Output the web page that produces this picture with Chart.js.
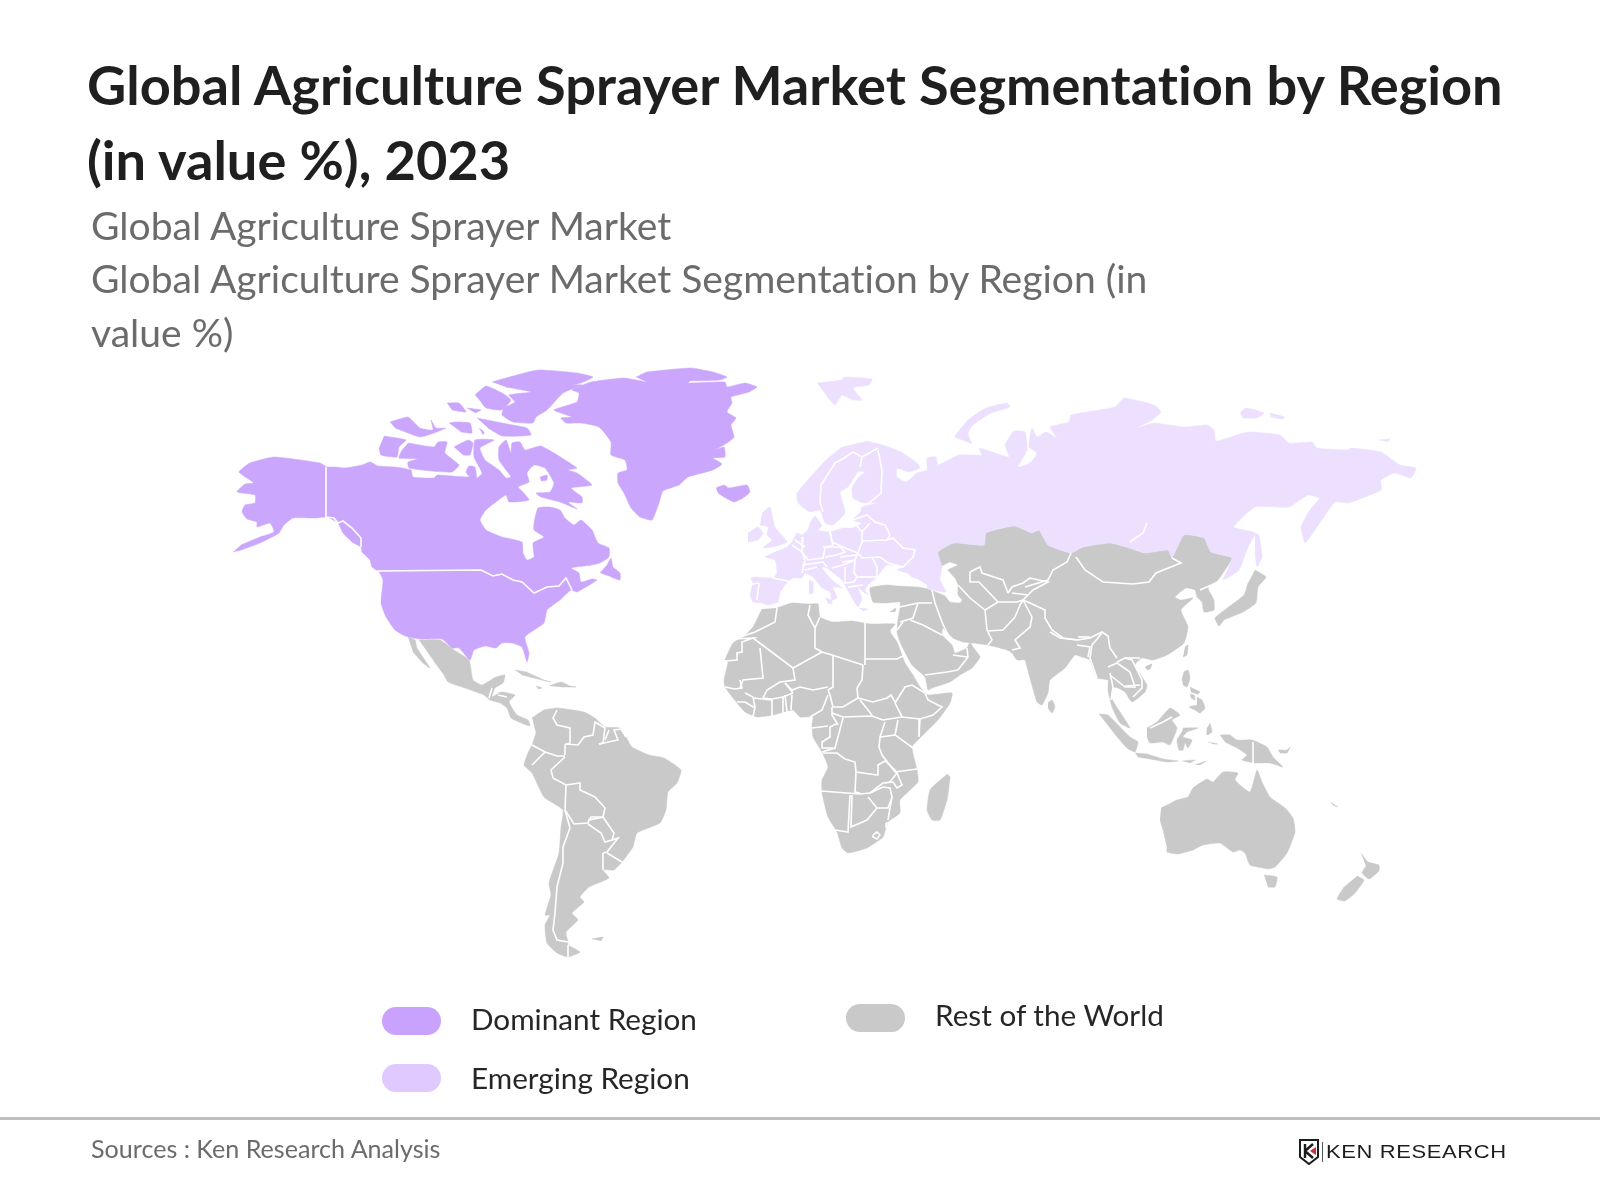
<!DOCTYPE html>
<html>
<head>
<meta charset="utf-8">
<title>Global Agriculture Sprayer Market Segmentation by Region</title>
<script src="https://cdn.jsdelivr.net/npm/chart.js@4"></script>
<style>
	html, body { margin: 0; background: #fff; }
	#page { position: relative; width: 1600px; height: 1200px; overflow: hidden; font-family: Lato, sans-serif; font-variant-ligatures: none; }
	#page > div { position: absolute; white-space: nowrap; }
	canvas { position: absolute; left: 0; top: 0; }
	.title { left: 87px; font-size: 54.15px; font-weight: 700; color: #1f1f1f; line-height: 75px; }
	.sub { left: 91px; font-size: 39.05px; color: #6b6b6b; line-height: 53px; }
	.pill { width: 59px; height: 28px; border-radius: 14px; }
	.key { font-size: 29.7px; color: #262626; line-height: 36px; }
	.rule { left: 0; top: 1117px; width: 1600px; height: 3px; background: #bfbfbf; }
	.source { left: 91px; top: 1131px; font-size: 25.1px; color: #6b6b6b; line-height: 34px; }
	.logo { left: 1326px; top: 1141px; font: 400 18px "Liberation Sans", sans-serif; color: #1c1c1c; line-height: 22px; transform-origin: left center; transform: scaleX(1.22); letter-spacing: 0.5px; }
</style>
</head>
<body>
<div id="page">
	<canvas id="map" width="1600" height="1200"></canvas>
	<div class="title" style="top:47px">Global Agriculture Sprayer Market Segmentation by Region</div>
	<div class="title" style="top:122px">(in value %), 2023</div>
	<div class="sub" style="top:198px">Global Agriculture Sprayer Market</div>
	<div class="sub" style="top:251px">Global Agriculture Sprayer Market Segmentation by Region (in</div>
	<div class="sub" style="top:305px">value %)</div>
	<div class="pill" style="left:382px;top:1007px;background:#c9a2fd"></div>
	<div class="key" style="left:471px;top:1001px">Dominant Region</div>
	<div class="pill" style="left:382px;top:1064px;background:#dfc9ff"></div>
	<div class="key" style="left:471px;top:1060px">Emerging Region</div>
	<div class="pill" style="left:846px;top:1004px;background:#c9c9c9"></div>
	<div class="key" style="left:935px;top:997px">Rest of the World</div>
	<div class="rule"></div>
	<div class="source">Sources : Ken Research Analysis</div>
	<svg style="position:absolute;left:1299px;top:1139px" width="28" height="26" viewBox="0 0 28 26">
		<path d="M1 1H19V18L10 25L1 18Z" fill="none" stroke="#1c1c1c" stroke-width="2"/>
		<path d="M6 5V19M6 12L14 5M6 12L14 19" fill="none" stroke="#1c1c1c" stroke-width="2.4"/>
		<path d="M11 12L17 8V16Z" fill="#c8323f"/>
		<path d="M23.5 3V23" stroke="#555" stroke-width="1"/>
	</svg>
	<div class="logo">KEN RESEARCH</div>
</div>
<script>
// Map outlines, as [x, y] in map units
const northAmerica = [[233,552],[241,550],[260,543],[279,533],[284,525],[293,518],[316,518],[327,517],[338,523],[343,533],[352,542],[361,547],[362,552],[370,560],[372,567],[379,572],[383,580],[381,603],[386,617],[395,630],[405,636],[420,639],[442,639],[452,648],[459,648],[470,660],[474,650],[485,646],[496,648],[502,643],[512,643],[522,647],[527,662],[529,653],[525,637],[544,623],[547,610],[560,600],[571,590],[577,592],[597,580],[592,579],[581,582],[579,573],[571,568],[592,565],[600,563],[609,557],[609,548],[598,543],[592,530],[581,520],[574,525],[565,518],[560,510],[550,507],[538,508],[534,523],[534,530],[544,537],[533,543],[534,557],[527,560],[523,553],[522,542],[502,537],[486,530],[480,520],[486,510],[506,495],[509,502],[529,500],[523,492],[518,487],[529,482],[527,473],[534,465],[545,468],[554,483],[550,492],[536,493],[541,497],[560,502],[577,509],[568,502],[582,503],[582,497],[571,488],[592,485],[577,473],[568,470],[577,468],[541,446],[525,450],[520,442],[512,443],[511,453],[506,440],[499,447],[499,460],[511,477],[506,478],[499,470],[485,460],[480,448],[494,440],[475,440],[474,457],[482,473],[477,478],[475,467],[469,466],[466,472],[469,477],[437,475],[434,478],[413,477],[411,470],[395,467],[378,466],[370,462],[362,465],[345,468],[335,467],[327,467],[320,463],[274,457],[250,463],[239,472],[254,483],[245,484],[237,492],[255,495],[255,503],[245,505],[242,512],[247,519],[257,522],[257,527],[270,523],[274,532],[260,537],[241,545]];
const greenland = [[640,375],[647,372],[691,368],[713,372],[727,377],[720,380],[690,381],[688,383],[725,382],[727,387],[745,383],[757,387],[749,392],[731,397],[732,403],[727,412],[736,418],[731,425],[734,437],[727,443],[715,450],[724,447],[725,457],[713,458],[722,464],[713,470],[688,477],[679,485],[663,491],[659,503],[652,520],[640,517],[631,508],[624,493],[618,483],[618,473],[627,470],[625,460],[611,455],[611,442],[599,427],[581,423],[566,423],[561,418],[572,417],[554,410],[577,402],[579,393],[572,390],[591,382],[624,378],[647,382],[636,377]];
const iceland = [[716,488],[724,485],[729,488],[747,485],[750,492],[743,498],[734,502],[724,497],[718,493]];
const newfoundland = [[600,573],[607,565],[611,558],[613,567],[620,573],[620,580],[611,577]];
const ellesmere = [[492,382],[506,378],[538,370],[577,373],[593,377],[581,383],[572,385],[582,385],[563,393],[547,410],[536,417],[533,423],[513,422],[502,415],[504,408],[515,402],[509,395],[531,392],[506,387]];
const devon = [[475,395],[486,386],[502,393],[511,400],[502,410],[486,408],[481,402]];
const arcticA = [[447,403],[459,403],[466,412],[452,410]];
const arcticB = [[467,408],[481,410],[475,413]];
const arcticC = [[477,418],[502,423],[527,428],[531,435],[502,436],[488,428]];
const banks = [[390,422],[408,417],[420,428],[433,430],[431,420],[436,428],[446,428],[434,433],[420,437],[395,428]];
const arcticD = [[449,423],[456,422],[470,423],[472,433],[461,432]];
const arcticE = [[384,436],[406,440],[399,447],[397,457],[381,455],[379,448]];
const victoria = [[408,443],[434,447],[438,442],[447,442],[445,453],[459,465],[452,472],[431,471],[409,468],[408,462],[418,459],[399,458],[402,450]];
const arcticF = [[454,447],[468,440],[473,443],[470,455],[463,455]];
const arcticG = [[479,428],[484,432],[483,435]];
const foxeIsland = [[540,477],[547,475],[547,480],[541,481]];

const europeRussia = [[867,441],[883,445],[901,452],[917,463],[920,468],[908,472],[897,468],[897,477],[906,482],[917,473],[927,470],[927,458],[936,457],[938,465],[959,455],[982,455],[979,448],[1009,457],[1005,445],[1014,431],[1025,432],[1027,450],[1018,467],[1030,463],[1037,453],[1029,447],[1032,428],[1037,437],[1046,432],[1057,438],[1050,427],[1069,422],[1071,415],[1115,407],[1124,398],[1135,400],[1154,405],[1161,412],[1152,420],[1137,428],[1154,423],[1184,427],[1207,425],[1214,430],[1216,441],[1248,432],[1280,435],[1289,443],[1312,442],[1317,448],[1347,450],[1351,448],[1381,452],[1400,465],[1416,468],[1411,478],[1395,473],[1381,480],[1381,490],[1349,503],[1335,502],[1324,517],[1310,537],[1305,543],[1301,527],[1310,510],[1328,489],[1321,498],[1308,495],[1289,507],[1255,507],[1234,527],[1255,533],[1248,547],[1239,570],[1223,580],[1232,558],[1211,552],[1204,538],[1184,535],[1172,558],[1168,550],[1145,553],[1126,547],[1110,543],[1083,547],[1071,553],[1048,545],[1039,530],[1032,533],[1014,526],[986,533],[984,545],[954,543],[938,552],[942,567],[940,580],[946,592],[928,589],[927,585],[918,579],[912,577],[907,573],[897,570],[903,567],[887,565],[882,570],[877,577],[868,585],[865,590],[868,595],[858,588],[862,598],[858,607],[852,598],[845,585],[842,580],[827,568],[823,567],[822,568],[832,580],[842,588],[833,587],[837,598],[832,600],[830,592],[822,588],[813,577],[805,573],[802,578],[793,578],[788,582],[785,585],[780,593],[778,602],[768,605],[762,603],[753,602],[750,595],[753,583],[751,578],[755,577],[773,578],[777,573],[775,560],[765,557],[773,553],[787,547],[792,542],[797,533],[802,535],[808,530],[810,523],[815,516],[822,526],[818,530],[830,532],[843,528],[852,528],[862,523],[852,520],[860,513],[862,507],[878,503],[863,503],[853,498],[852,488],[858,478],[865,472],[858,472],[848,487],[840,492],[842,500],[845,513],[833,525],[825,523],[820,510],[810,512],[798,503],[797,493],[826,460],[842,447]];
const britain = [[762,513],[770,507],[775,527],[787,542],[777,546],[763,548],[772,540],[767,535],[768,527],[760,525]];
const ireland = [[748,533],[758,527],[763,533],[758,540],[748,542]];
const svalbard = [[817,383],[842,380],[844,377],[872,379],[869,385],[853,388],[862,400],[853,400],[842,395],[835,405],[828,398]];
const novayaZemlya = [[954,437],[968,420],[986,408],[1007,403],[1010,407],[991,413],[973,425],[968,433],[972,444]];
const siberianA = [[1240,413],[1246,408],[1264,413],[1257,418],[1243,418]];
const siberianB = [[1270,413],[1285,417],[1282,419],[1271,417]];
const wrangel = [[1379,440],[1390,439],[1388,442]];
const sakhalin = [[1255,533],[1259,535],[1262,557],[1257,567],[1255,553]];
const sardinia = [[809,580],[813,582],[813,593],[809,594]];
const sicily = [[825,598],[832,600],[832,604],[828,603]];
const crete = [[859,608],[868,609],[863,611]];

const baja = [[408,637],[415,640],[417,648],[430,668],[423,663],[413,652]];
const mexico = [[419,640],[440,640],[454,650],[469,660],[473,680],[482,685],[496,677],[505,675],[503,683],[495,688],[492,697],[501,692],[515,695],[509,702],[517,715],[528,720],[530,726],[519,722],[511,718],[507,708],[500,703],[490,700],[484,695],[465,688],[448,682],[444,675],[433,660]];
const cuba = [[515,670],[526,672],[544,680],[551,682],[538,679],[522,675]];
const hispaniola = [[549,686],[561,682],[570,686],[576,687],[561,687]];
const jamaica = [[536,686],[542,688],[538,689]];
const southAmerica = [[532,718],[544,710],[557,708],[566,709],[584,712],[595,718],[605,727],[620,728],[626,737],[632,747],[649,755],[664,758],[681,770],[677,783],[668,792],[666,810],[660,823],[637,833],[633,847],[622,862],[614,870],[603,870],[609,878],[589,887],[580,897],[584,902],[572,913],[578,920],[566,932],[568,942],[568,945],[580,952],[568,957],[557,953],[547,943],[545,925],[550,915],[545,915],[551,895],[549,883],[559,853],[561,827],[563,810],[544,797],[532,773],[524,765],[528,753],[532,745],[536,733]];
const falklands = [[592,939],[603,937],[601,941]];
const africa = [[777,608],[792,603],[808,604],[818,604],[820,617],[833,622],[852,621],[870,624],[895,624],[890,631],[897,642],[905,663],[913,675],[920,687],[928,695],[952,693],[950,703],[938,720],[920,738],[912,747],[917,770],[918,782],[900,800],[900,813],[888,822],[883,837],[867,848],[848,853],[842,848],[837,832],[828,817],[822,793],[822,780],[828,767],[822,752],[813,737],[812,725],[813,717],[800,717],[793,710],[773,715],[757,717],[745,712],[733,698],[725,687],[724,680],[728,662],[725,660],[733,643],[743,637],[753,627],[762,609]];
const madagascar = [[947,774],[950,777],[947,800],[940,820],[932,820],[927,810],[930,790],[940,780]];
const asia = [[940,567],[938,552],[954,543],[984,545],[986,533],[1014,526],[1032,533],[1039,530],[1048,545],[1071,553],[1083,547],[1110,543],[1126,547],[1145,553],[1168,550],[1172,558],[1184,535],[1204,538],[1211,552],[1232,558],[1225,570],[1218,580],[1208,588],[1212,596],[1214,600],[1214,610],[1204,612],[1202,602],[1197,597],[1195,590],[1186,588],[1175,597],[1181,600],[1193,598],[1181,610],[1188,627],[1184,643],[1167,655],[1153,660],[1142,658],[1135,665],[1147,685],[1145,692],[1132,702],[1125,692],[1118,688],[1113,687],[1111,697],[1120,712],[1130,728],[1120,723],[1112,707],[1108,690],[1108,680],[1097,678],[1090,660],[1082,657],[1075,655],[1065,668],[1050,680],[1048,693],[1042,705],[1037,702],[1027,667],[1025,660],[1017,660],[1012,653],[1007,650],[988,645],[973,643],[963,642],[953,638],[943,628],[942,635],[952,645],[955,653],[967,648],[970,642],[973,647],[980,657],[972,668],[960,675],[950,682],[932,688],[928,690],[925,677],[912,665],[900,642],[897,632],[898,620],[900,608],[900,602],[885,603],[873,602],[870,588],[887,585],[897,586],[917,587],[928,589],[938,593],[945,596],[950,602],[960,603],[962,600],[958,595],[958,585],[955,578],[948,570],[958,565],[950,562]];
const sriLanka = [[1048,703],[1052,700],[1055,707],[1052,713],[1048,708]];
const japan = [[1255,570],[1266,577],[1258,587],[1256,603],[1243,612],[1224,620],[1219,626],[1215,618],[1230,606],[1244,595],[1248,583]];
const taiwan = [[1185,647],[1188,645],[1187,655],[1183,657]];
const hainan = [[1145,667],[1152,664],[1150,669],[1147,670]];
const luzon = [[1182,680],[1184,672],[1188,670],[1190,678],[1187,687],[1183,685]];
const visayas = [[1190,687],[1200,692],[1198,694],[1191,692]];
const negros = [[1190,694],[1194,695],[1195,700],[1191,698]];
const mindanao = [[1197,697],[1202,700],[1205,708],[1200,713],[1195,710],[1189,707],[1197,705]];
const sumatra = [[1099,714],[1108,715],[1120,727],[1130,737],[1138,742],[1135,752],[1127,748],[1113,732]];
const java = [[1135,753],[1147,754],[1163,759],[1178,761],[1167,762],[1150,759],[1138,757]];
const flores = [[1182,761],[1195,760],[1190,763]];
const timor = [[1195,765],[1206,761],[1200,765]];
const borneo = [[1147,728],[1157,722],[1170,708],[1180,715],[1172,720],[1177,728],[1170,745],[1163,742],[1150,743],[1147,737]];
const sulawesi = [[1183,728],[1198,728],[1187,732],[1183,737],[1192,740],[1188,748],[1185,743],[1183,750],[1179,750],[1177,740],[1182,732]];
const halmahera = [[1210,723],[1212,732],[1207,735],[1207,728]];
const seram = [[1208,742],[1218,744],[1213,744]];
const newGuinea = [[1220,735],[1230,735],[1237,740],[1252,740],[1267,747],[1273,757],[1283,767],[1270,763],[1255,763],[1242,760],[1247,755],[1237,748],[1225,742]];
const newBritain = [[1278,750],[1287,750],[1290,747],[1287,753],[1280,753]];
const australia = [[1161,808],[1177,800],[1188,797],[1193,788],[1207,779],[1213,782],[1223,772],[1238,773],[1235,780],[1250,792],[1257,770],[1262,782],[1270,797],[1285,808],[1293,818],[1295,832],[1287,853],[1275,867],[1268,869],[1263,868],[1250,865],[1245,853],[1240,850],[1233,852],[1220,843],[1203,845],[1193,850],[1178,854],[1167,852],[1167,847],[1163,830],[1160,820]];
const tasmania = [[1264,875],[1277,877],[1275,887],[1268,887]];
const newCaledonia = [[1330,802],[1338,807],[1333,805]];
const newZealandN = [[1361,853],[1368,862],[1379,865],[1379,871],[1369,879],[1362,873],[1366,866]];
const newZealandS = [[1357,876],[1364,880],[1355,893],[1345,901],[1337,899],[1344,887]];
const cyprus = [[890,612],[896,608],[895,612]];

const dominantShapes = [northAmerica, greenland, iceland, newfoundland, ellesmere, devon, arcticA, arcticB, arcticC, banks, arcticD, arcticE, victoria, arcticF, arcticG, foxeIsland];
const emergingShapes = [europeRussia, britain, ireland, svalbard, novayaZemlya, siberianA, siberianB, wrangel, sakhalin, sardinia, sicily, crete];
const restShapes = [baja, mexico, cuba, hispaniola, jamaica, southAmerica, falklands, africa, madagascar, asia, sriLanka, japan, taiwan, hainan, luzon, visayas, negros, mindanao, sumatra, java, flores, timor, borneo, sulawesi, halmahera, seram, newGuinea, newBritain, australia, tasmania, newCaledonia, newZealandN, newZealandS, cyprus];

// Country borders, drawn in white on top of the fills
const americaBorders = [
	[[326,467],[326,517],[334,518],[338,523],[343,521],[352,528],[361,538],[361,547]],
	[[377,571],[481,570],[493,576],[502,574],[513,580],[522,582],[534,593],[547,587],[559,586],[566,578],[572,590]],
	[[492,688],[489,698]], [[498,695],[507,697]],
	[[557,710],[553,718],[557,725],[570,728],[570,743],[565,745],[565,755]],
	[[565,744],[578,745],[584,737],[593,735],[595,722],[605,728],[603,743],[599,744]],
	[[599,744],[618,740],[614,730],[621,729],[626,737]], [[605,740],[609,730]],
	[[532,745],[545,752],[532,765]], [[545,752],[557,756],[565,756]],
	[[565,757],[551,770],[553,778],[566,785]],
	[[566,785],[580,783],[580,790],[595,797],[605,808],[603,817],[589,820],[588,823],[574,824],[565,810],[566,785]],
	[[565,810],[570,828],[563,847],[563,863],[557,887],[555,913],[553,930],[557,940],[568,942]],
	[[589,820],[591,817],[603,817],[614,833],[612,840],[605,842],[601,833],[588,824]],
	[[612,840],[618,838],[607,852],[603,853]],
	[[607,853],[622,862]], [[603,853],[603,870]], [[568,945],[568,957]]
];
const africaBorders = [
	[[777,608],[775,622],[755,632],[740,637]],
	[[733,639],[753,638],[742,642],[742,652],[737,653],[737,660],[725,661]],
	[[753,638],[793,668],[822,652]],
	[[760,648],[763,678],[743,680],[740,688]],
	[[793,668],[795,680],[780,682],[767,690],[763,698]],
	[[810,605],[808,615],[815,628],[815,648],[822,652]], [[820,617],[815,628]],
	[[865,622],[865,665]], [[822,652],[832,655],[863,665]], [[865,659],[897,659],[905,655]],
	[[833,655],[833,687],[828,690]],
	[[785,683],[792,690],[800,687],[813,690],[828,687]],
	[[863,665],[862,680],[857,688],[858,698]],
	[[858,698],[843,707],[833,707],[830,695],[828,690]],
	[[828,695],[822,710],[810,717]],
	[[832,713],[843,717],[872,716],[883,720]], [[832,707],[832,715],[838,725]],
	[[858,698],[873,702],[887,698],[891,695],[895,702]], [[860,700],[872,715]],
	[[895,703],[902,717],[883,720]],
	[[895,703],[905,687],[912,685],[925,693]],
	[[902,717],[920,719],[933,715],[942,707],[928,700],[925,693]],
	[[920,719],[919,737]], [[898,720],[895,735],[913,748]],
	[[885,722],[880,737],[895,735]], [[880,737],[879,747],[882,755],[895,772],[917,769]],
	[[843,718],[835,748],[822,752]],
	[[838,723],[830,727],[830,737],[822,742],[822,748],[833,748]],
	[[812,728],[820,727],[828,726]],
	[[823,753],[837,753],[845,759],[855,762],[856,772],[877,775]],
	[[856,772],[855,792],[860,793]], [[821,791],[860,794],[870,793]],
	[[877,775],[878,765],[885,761],[895,770],[897,773],[890,782],[883,783],[870,793]],
	[[897,773],[902,785],[897,788],[893,782],[885,783]],
	[[868,797],[877,808],[888,808],[892,797],[890,788],[883,787],[870,793]],
	[[892,797],[890,808],[888,820]],
	[[852,795],[851,827],[867,820],[877,808]], [[850,795],[848,832],[835,830]],
	[[873,835],[877,832],[880,835],[877,839],[873,837],[873,835]],
	[[886,823],[890,823],[890,827],[886,827],[886,823]],
	[[725,687],[735,689],[742,688],[740,680]], [[737,702],[745,702],[755,708]],
	[[745,693],[753,697],[755,707],[753,717]], [[753,698],[772,700]], [[772,700],[772,717]],
	[[783,697],[783,715]], [[785,695],[787,712]], [[792,695],[791,710]],
	[[763,698],[772,699],[783,697],[793,693]], [[793,693],[785,683]]
];
const asiaBorders = [
	[[1076,557],[1085,570],[1103,582],[1133,584],[1149,582],[1156,573],[1181,563],[1172,558]],
	[[1071,553],[1067,562],[1053,570],[1048,580],[1025,587]],
	[[1218,582],[1200,590]],
	[[970,572],[980,567],[982,573],[1003,580],[1008,593]],
	[[970,572],[970,582],[979,582],[998,602]],
	[[958,585],[970,598],[985,610]],
	[[985,610],[998,602],[1017,602],[1023,600]],
	[[985,610],[987,630],[992,640],[988,645]],
	[[987,631],[1003,630],[1015,617],[1020,605],[1023,600]],
	[[1023,600],[1032,617],[1030,627],[1015,640],[1020,648],[1012,650]],
	[[1008,593],[1012,587],[1023,583],[1030,578],[1048,582],[1033,590],[1028,595],[1023,600]],
	[[1012,593],[1028,595]],
	[[1023,600],[1030,603],[1045,610],[1045,618],[1052,630],[1063,638],[1078,640],[1090,638],[1102,632],[1108,636],[1110,648],[1117,658]],
	[[1050,632],[1060,638],[1077,640]], [[1078,637],[1090,637]],
	[[1077,645],[1090,647],[1088,657]],
	[[1102,633],[1092,645],[1090,658],[1097,678]],
	[[1108,667],[1117,663],[1130,672],[1135,687],[1125,687],[1120,683],[1110,675]],
	[[1110,673],[1113,687],[1111,700]],
	[[1125,658],[1132,660],[1142,680],[1142,688],[1133,697]],
	[[1117,662],[1125,658],[1140,658]], [[1125,686],[1140,685]],
	[[932,590],[935,603],[942,622],[948,635]],
	[[900,607],[918,603],[932,603]],
	[[918,603],[913,618],[900,622]],
	[[910,620],[923,625],[942,635]], [[903,622],[897,630]],
	[[925,675],[947,672],[958,670]], [[958,670],[968,657],[967,648]], [[953,655],[967,657]],
	[[1150,728],[1163,722],[1172,717]],
	[[1253,742],[1253,763]],
	[[1147,523],[1143,533],[1130,542]]
];
const europeBorders = [
	[[853,452],[844,458],[835,463],[821,485],[820,502],[823,512]],
	[[878,448],[862,457],[860,467]], [[862,457],[853,452]],
	[[878,450],[882,470],[881,493],[869,503],[860,505]],
	[[852,520],[867,515],[875,522],[885,525],[890,535],[887,540],[862,541]],
	[[852,520],[862,532],[870,523]],
	[[830,532],[832,542],[845,548],[858,553],[862,542],[862,532]],
	[[858,553],[862,558],[880,557],[888,563],[903,567],[913,557],[915,550],[903,548],[893,538],[887,540]],
	[[803,537],[802,552],[808,560],[823,558],[825,548],[833,545],[830,532]],
	[[792,545],[802,552],[805,560],[802,573]],
	[[773,578],[792,582]], [[759,583],[757,600]], [[752,584],[759,583]], [[795,540],[805,547]],
	[[802,565],[823,562],[827,567]], [[805,570],[817,567]],
	[[823,547],[840,547],[845,552],[837,555],[825,557]],
	[[840,557],[857,555],[855,560],[842,562]],
	[[832,568],[843,565],[855,560],[854,573],[857,577],[877,577],[877,567],[872,557]],
	[[845,567],[845,583],[854,582],[857,577]],
	[[848,587],[863,585]]
];

// Each outline becomes one filled dataset, each border one white line
function toPoints(pairs) {
	return pairs.map(p => ({ x: p[0], y: p[1] }));
}

function fillDataset(label, pairs, color) {
	return {
		label: label,
		data: toPoints(pairs),
		showLine: true,
		fill: 'shape',
		backgroundColor: color,
		borderColor: color,
		borderWidth: 0.5,
		pointRadius: 0,
		tension: 0.15
	};
}

function borderDataset(pairs) {
	return {
		label: 'border',
		data: toPoints(pairs),
		showLine: true,
		fill: false,
		borderColor: '#ffffff',
		borderWidth: 1.6,
		pointRadius: 0,
		order: -1
	};
}

const datasets = [
	...dominantShapes.map(s => fillDataset('Dominant Region', s, '#cba6fd')),
	...emergingShapes.map(s => fillDataset('Emerging Region', s, '#ece0fe')),
	...restShapes.map(s => fillDataset('Rest of the World', s, '#c9c9c9')),
	...americaBorders.concat(africaBorders, asiaBorders, europeBorders).map(b => borderDataset(b))
];

new Chart(document.getElementById('map'), {
	type: 'scatter',
	data: { datasets: datasets },
	options: {
		responsive: false,
		animation: false,
		devicePixelRatio: 1,
		layout: { padding: 0 },
		plugins: { legend: { display: false }, tooltip: { enabled: false } },
		scales: {
			x: { type: 'linear', display: false, min: 0, max: 1600 },
			y: { type: 'linear', display: false, min: 0, max: 1200, reverse: true }
		}
	}
});
</script>
</body>
</html>
